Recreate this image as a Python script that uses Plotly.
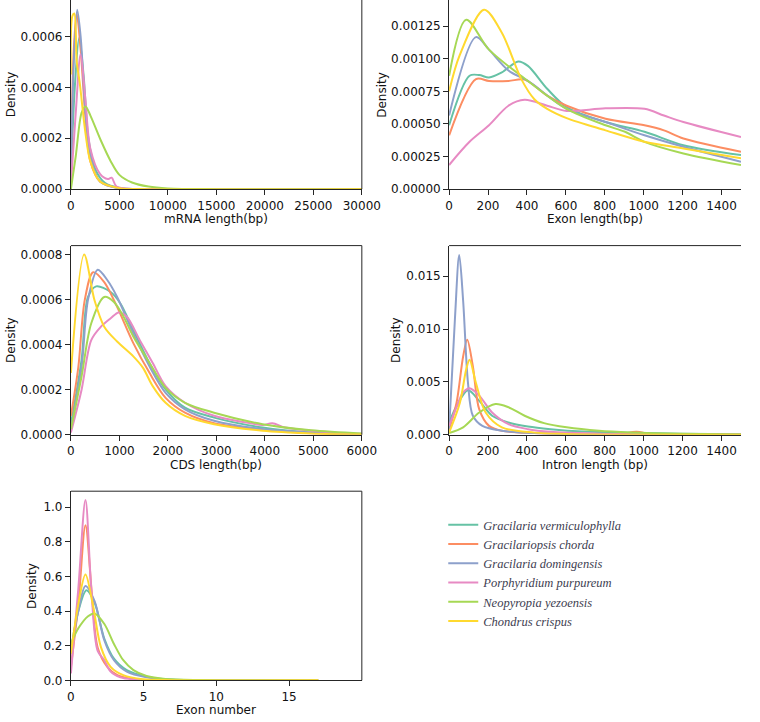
import plotly.graph_objects as go

# ---------------- series names & colours ----------------
species = ["Gracilaria vermiculophylla", "Gracilariopsis chorda", "Gracilaria domingensis",
           "Porphyridium purpureum", "Neopyropia yezoensis", "Chondrus crispus"]
keys = ["gv", "gc", "gd", "pp", "ny", "cc"]
colors = ["#66c2a5", "#fc8d62", "#8da0cb", "#e78ac3", "#a6d854", "#ffd92f"]

# ---------------- mRNA length ----------------
mrna_x_gv = [0, 400, 850, 1300, 1800, 2500, 3500, 5000, 8000, 30000]
mrna_y_gv = [0.00005, 0.0004, 0.000595, 0.00045, 0.0002, 0.00008, 0.000025, 0.000005, 0.0, 0.0]
mrna_x_gc = [0, 300, 600, 1000, 1500, 2000, 3000, 5000, 8000, 30000]
mrna_y_gc = [0.0001, 0.00055, 0.00069, 0.00055, 0.00028, 0.00011, 0.00003, 0.000003, 0.0, 0.0]
mrna_x_gd = [0, 300, 650, 1000, 1500, 2000, 3000, 5000, 8000, 30000]
mrna_y_gd = [0.00005, 0.0005, 0.000705, 0.0006, 0.0003, 0.00013, 0.00003, 0.000003, 0.0, 0.0]
mrna_x_pp = [0, 500, 1000, 1500, 2000, 3000, 3800, 4200, 4700, 6000, 9000, 30000]
mrna_y_pp = [0.00002, 0.0003, 0.00053, 0.00035, 0.00016, 0.00006, 0.00004, 0.000045, 0.00001, 0.000002, 0.0, 0.0]
mrna_x_ny = [0, 500, 1100, 1500, 2000, 3100, 4100, 5000, 6300, 8000, 10000, 15000, 30000]
mrna_y_ny = [0.0, 0.00013, 0.0003, 0.000325, 0.00029, 0.00019, 0.00011, 0.000056, 0.000026, 0.00001, 0.000003, 0.0, 0.0]
mrna_x_cc = [0, 150, 350, 600, 900, 1500, 2000, 3000, 5000, 8000, 30000]
mrna_y_cc = [0.00045, 0.00068, 0.00069, 0.0005, 0.00042, 0.00022, 0.00011, 0.00003, 0.000004, 0.0, 0.0]

# ---------------- Exon length ----------------
exon_x_gv = [0, 105, 155, 205, 271, 355, 405, 504, 604, 804, 1004, 1204, 1500]
exon_y_gv = [0.00049, 0.00087, 0.000875, 0.000857, 0.000895, 0.00098, 0.000946, 0.00077, 0.00063, 0.000515, 0.00044, 0.000337, 0.000261]
exon_x_gc = [0, 138, 205, 305, 388, 504, 604, 804, 1004, 1104, 1204, 1500]
exon_y_gc = [0.000413, 0.000844, 0.00083, 0.00083, 0.00084, 0.000718, 0.00064, 0.00054, 0.00049, 0.000451, 0.000388, 0.000287]
exon_x_gd = [0, 138, 205, 305, 405, 604, 804, 1004, 1204, 1500]
exon_y_gd = [0.000565, 0.001166, 0.00107, 0.00091, 0.00083, 0.000616, 0.000515, 0.000413, 0.000325, 0.00021]
exon_x_pp = [0, 105, 205, 305, 388, 504, 604, 804, 1004, 1104, 1204, 1500]
exon_y_pp = [0.000185, 0.000363, 0.00049, 0.00064, 0.000685, 0.00064, 0.0006, 0.00062, 0.000616, 0.000565, 0.000515, 0.0004]
exon_x_ny = [0, 88, 205, 405, 604, 804, 904, 1004, 1204, 1500]
exon_y_ny = [0.00087, 0.0013, 0.00107, 0.00083, 0.000616, 0.00049, 0.00044, 0.000363, 0.000274, 0.000185]
exon_x_cc = [0, 55, 180, 271, 371, 438, 504, 604, 804, 1004, 1204, 1500]
exon_y_cc = [0.00075, 0.00103, 0.001377, 0.0012, 0.000844, 0.00069, 0.000616, 0.000545, 0.000451, 0.000363, 0.000312, 0.000236]

# ---------------- CDS length ----------------
cds_x_gv = [0, 220, 353, 520, 820, 1020, 1287, 1620, 1953, 2353, 2953, 3953, 4953, 6000]
cds_y_gv = [0.000047, 0.000333, 0.000612, 0.000659, 0.000634, 0.000583, 0.000465, 0.000319, 0.000201, 0.00012, 0.000076, 0.000032, 0.00001, 0.000002]
cds_x_gc = [0, 153, 287, 460, 687, 953, 1287, 1620, 1953, 2353, 2953, 3953, 4953, 6000]
cds_y_gc = [0.000084, 0.0003, 0.0006, 0.000722, 0.000678, 0.000568, 0.000407, 0.000275, 0.000164, 0.000098, 0.000051, 0.000022, 0.000007, 0.000001]
cds_x_gd = [0, 220, 353, 553, 753, 953, 1287, 1620, 1953, 2353, 2953, 3953, 4953, 6000]
cds_y_gd = [0.000025, 0.0003, 0.0006, 0.000733, 0.000686, 0.000612, 0.00045, 0.000304, 0.000186, 0.000113, 0.000062, 0.000025, 0.00001, 0.000002]
cds_x_pp = [0, 220, 420, 620, 820, 987, 1153, 1420, 1687, 1953, 2353, 2953, 3620, 3953, 4153, 4420, 4953, 5620, 6000]
cds_y_pp = [0.00001, 0.0002, 0.00042, 0.00048, 0.000517, 0.000543, 0.000524, 0.00042, 0.000319, 0.000216, 0.000142, 0.000084, 0.000054, 0.000043, 0.000051, 0.000032, 0.000018, 0.000007, 0.000004]
cds_x_ny = [0, 220, 420, 687, 887, 1087, 1287, 1620, 1953, 2353, 2953, 3953, 4953, 6000]
cds_y_ny = [0.000025, 0.00026, 0.000495, 0.000612, 0.00059, 0.000524, 0.000436, 0.000319, 0.000208, 0.000142, 0.000098, 0.000047, 0.00002, 0.000006]
cds_x_cc = [0, 273, 487, 687, 953, 1287, 1487, 1687, 1953, 2353, 2953, 3953, 4953, 6000]
cds_y_cc = [0.000275, 0.0008, 0.000597, 0.00048, 0.000414, 0.000348, 0.000297, 0.000216, 0.000142, 0.000084, 0.000047, 0.000018, 0.000006, 0.000001]

# ---------------- Intron length ----------------
intron_x_gv = [0, 38, 97, 155, 221, 305, 405, 521, 688, 937, 1187, 1500]
intron_y_gv = [0.00116, 0.0027, 0.0042, 0.0032, 0.0018, 0.00116, 0.00078, 0.00053, 0.0003, 0.00019, 0.0001, 0.00005]
intron_x_gc = [0, 38, 72, 93, 122, 155, 205, 271, 438, 771, 880, 962, 1040, 1200, 1500]
intron_y_gc = [0.0005, 0.003, 0.0074, 0.009, 0.0065, 0.0024, 0.00084, 0.000375, 0.00016, 0.00005, 0.00005, 0.00028, 0.00003, 0.0, 0.0]
intron_x_gd = [0, 30, 52, 72, 97, 122, 171, 271, 438, 600, 1000, 1500]
intron_y_gd = [0.0005, 0.011, 0.017, 0.0127, 0.0049, 0.0018, 0.00084, 0.000375, 0.00016, 0.00005, 0.0, 0.0]
intron_x_pp = [0, 38, 72, 105, 155, 221, 305, 405, 521, 771, 1000, 1500]
intron_y_pp = [0.00084, 0.0026, 0.004, 0.0044, 0.0037, 0.0021, 0.001, 0.00053, 0.00028, 0.0001, 0.00003, 0.0]
intron_x_ny = [0, 72, 155, 238, 305, 388, 488, 604, 771, 937, 1187, 1500]
intron_y_ny = [0.00016, 0.0007, 0.0021, 0.0029, 0.0026, 0.0018, 0.0011, 0.0007, 0.000375, 0.00022, 0.0001, 0.00003]
intron_x_cc = [0, 55, 88, 105, 138, 188, 271, 438, 600, 1000, 1500]
intron_y_cc = [0.0002, 0.003, 0.0062, 0.0071, 0.0049, 0.0021, 0.0007, 0.0002, 0.00008, 0.0, 0.0]

# ---------------- Exon number ----------------
enum_x_gv = [0, 0.51, 1.07, 1.62, 2.3, 2.96, 3.84, 5.2, 6.5, 9, 17]
enum_y_gv = [0.173, 0.4, 0.52, 0.45, 0.24, 0.125, 0.059, 0.021, 0.006, 0.001, 0.0]
enum_x_gc = [0, 0.51, 1.0, 1.44, 1.84, 2.5, 3.2, 4.3, 6, 17]
enum_y_gc = [0.078, 0.44, 0.895, 0.5, 0.19, 0.078, 0.03, 0.008, 0.001, 0.0]
enum_x_gd = [0, 0.51, 1.0, 1.62, 2.3, 2.96, 3.84, 5.2, 6.5, 9, 17]
enum_y_gd = [0.154, 0.4, 0.544, 0.458, 0.23, 0.116, 0.05, 0.017, 0.005, 0.001, 0.0]
enum_x_pp = [0, 0.51, 1.0, 1.4, 1.84, 2.3, 2.73, 3.4, 4.3, 6, 17]
enum_y_pp = [0.04, 0.53, 1.04, 0.53, 0.17, 0.116, 0.05, 0.017, 0.005, 0.001, 0.0]
enum_x_ny = [0, 0.51, 1.18, 1.62, 2.3, 2.96, 3.6, 4.3, 5.2, 6.5, 9, 17]
enum_y_ny = [0.21, 0.3, 0.37, 0.386, 0.325, 0.21, 0.116, 0.059, 0.025, 0.008, 0.002, 0.0]
enum_x_cc = [0, 0.51, 1.0, 1.5, 2.07, 2.73, 3.6, 4.96, 7, 17]
enum_y_cc = [0.154, 0.44, 0.61, 0.44, 0.19, 0.078, 0.03, 0.006, 0.001, 0.0]

# ---------------- axes tick settings ----------------
mrna_yticks = [0.0, 0.0002, 0.0004, 0.0006]
exon_yticks = [0.0, 0.00025, 0.0005, 0.00075, 0.001, 0.00125]
cds_yticks = [0.0, 0.0002, 0.0004, 0.0006, 0.0008]
intron_yticks = [0.0, 0.005, 0.01, 0.015]
enum_yticks = [0.0, 0.2, 0.4, 0.6, 0.8, 1.0]
mrna_xticks = [0, 5000, 10000, 15000, 20000, 25000, 30000]
exon_xticks = [0, 200, 400, 600, 800, 1000, 1200, 1400]
cds_xticks = [0, 1000, 2000, 3000, 4000, 5000, 6000]
intron_xticks = [0, 200, 400, 600, 800, 1000, 1200, 1400]
enum_xticks = [0, 5, 10, 15]

W, H = 760, 722
g = globals()
panels = [
    # prefix, axis suffix, x title, xrange, yrange, xticks, yticks, yfmt,
    # domain x (px), domain y (px top,bottom), right line, top line, x title pos, y title pos
    ("mrna", "", "mRNA length(bp)", [0, 30000], [0, 0.000743], mrna_xticks, mrna_yticks, ".4f",
     (69, 369), (0, 191), True, False, (219, 221), (7, 95.5)),
    ("exon", "2", "Exon length(bp)", [0, 1500], [0, 0.001451], exon_xticks, exon_yticks, ".5f",
     (459, 760), (0, 191), False, False, (609, 221), (389, 95.5)),
    ("cds", "3", "CDS length(bp)", [0, 6000], [0, 0.00084], cds_xticks, cds_yticks, ".4f",
     (69, 369), (248, 439), True, True, (219, 470), (7, 343.5)),
    ("intron", "4", "Intron length (bp)", [0, 1500], [0, 0.0179], intron_xticks, intron_yticks, ".3f",
     (459, 760), (248, 439), False, True, (609, 470), (404, 343.5)),
    ("enum", "5", "Exon number", [0, 20], [0, 1.0913], enum_xticks, enum_yticks, ".1f",
     (69, 369), (496, 687), True, True, (219, 717), (29, 591.5)),
]

fig = go.Figure()
tickfont = dict(family="DejaVu Sans", size=12, color="#111111")
frame_col = "#262626"
shapes = []
annotations = []
for pi, (pre, sfx, xtitle, xr, yr, xt, yt, yfmt, dx, dy, rline, tline, xtp, ytp) in enumerate(panels):
    for k, name, col in zip(keys, species, colors):
        fig.add_trace(go.Scatter(
            x=g[f"{pre}_x_{k}"], y=g[f"{pre}_y_{k}"], mode="lines",
            line=dict(color=col, width=2, shape="spline", smoothing=0.9),
            name=name, legendgroup=name, showlegend=(pi == 0),
            xaxis="x" + sfx, yaxis="y" + sfx, hoverinfo="skip"))
    xa = dict(domain=[dx[0] / W, dx[1] / W], range=xr, tickvals=xt, ticktext=[str(v) for v in xt],
              showline=True, linecolor=frame_col, linewidth=1, mirror=False,
              ticks="outside", ticklen=5, tickcolor=frame_col, showgrid=False, zeroline=False,
              tickfont=tickfont, anchor="y" + sfx)
    ya = dict(domain=[1 - dy[1] / H, 1 - dy[0] / H], range=yr, tickvals=yt,
              ticktext=[format(v, yfmt) for v in yt],
              showline=True, linecolor=frame_col, linewidth=1, mirror=False,
              ticks="outside", ticklen=5, tickcolor=frame_col, showgrid=False, zeroline=False,
              tickfont=tickfont, anchor="x" + sfx)
    fig.update_layout(**{"xaxis" + sfx: xa, "yaxis" + sfx: ya})
    xref = ("x" + sfx) + " domain"
    yref = ("y" + sfx) + " domain"
    if rline:
        shapes.append(dict(type="line", xref=xref, yref=yref, x0=1, x1=1, y0=0, y1=1,
                           line=dict(color=frame_col, width=1)))
    if tline:
        shapes.append(dict(type="line", xref=xref, yref=yref, x0=0, x1=1, y0=1, y1=1,
                           line=dict(color=frame_col, width=1)))
    annotations.append(dict(text=xtitle, xref="paper", yref="paper", x=xtp[0] / W, y=1 - xtp[1] / H,
                            xanchor="center", yanchor="middle", showarrow=False, font=tickfont))
    annotations.append(dict(text="Density", xref="paper", yref="paper", x=ytp[0] / W, y=1 - ytp[1] / H,
                            xanchor="center", yanchor="middle", showarrow=False, textangle=-90,
                            font=tickfont))

fig.update_layout(
    width=W, height=H,
    margin=dict(l=0, r=0, t=0, b=0),
    paper_bgcolor="white", plot_bgcolor="white",
    shapes=shapes, annotations=annotations,
    showlegend=True,
    legend=dict(x=0.596, y=1 - 515 / H, xanchor="left", yanchor="top",
                bgcolor="rgba(0,0,0,0)",
                font=dict(family="Liberation Serif", size=12.5, color="#3d3d50", style="italic"),
                itemwidth=30, tracegroupgap=0),
)

fig.write_html("out.html")
